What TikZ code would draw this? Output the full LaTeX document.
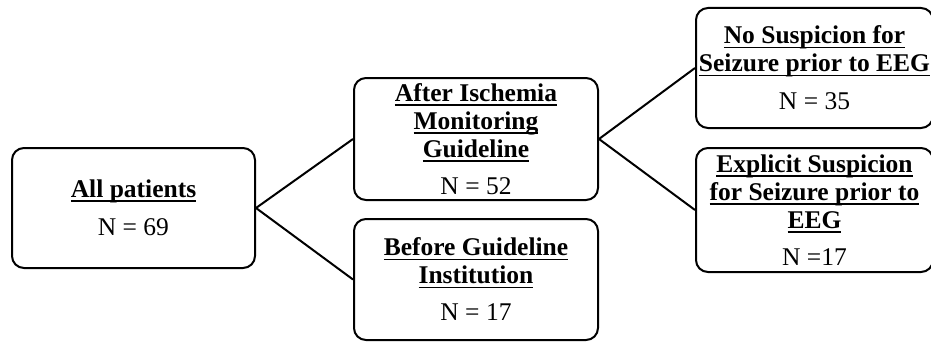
\documentclass[tikz,border=0pt]{standalone}
\usepackage{fontspec}
\setmainfont{Liberation Serif}
\usepackage{tikz}
\usetikzlibrary{positioning}
\newcommand{\ultext}[1]{\setbox0=\hbox{\bfseries #1}\rlap{\rule[-4.5pt]{\wd0}{1.8pt}}\box0}

\begin{document}
\begin{tikzpicture}[
    groupbox/.style={draw=black, line width=2pt, rounded corners=12pt, fill=white,
               minimum width=244pt, minimum height=121pt, align=center, inner sep=0pt,
               font=\fontsize{25.5}{28}\selectfont},
    subbox/.style={groupbox, minimum width=237pt},
    link/.style={line width=2pt}
]
    \useasboundingbox (0pt,0pt) rectangle (931pt,341pt);
    \node[groupbox, minimum width=243pt, minimum height=120pt] (all) at (133.5pt,133pt)
        {\ultext{All patients}\\[10pt]N = 69};
    \node[groupbox, right=97pt of all, yshift=69pt, minimum height=122pt] (after)
        {\ultext{After Ischemia}\\\ultext{Monitoring}\\\ultext{Guideline}\\[9pt]N = 52};
    \node[groupbox, right=97pt of all, yshift=-71.5pt] (before)
        {\ultext{Before Guideline}\\\ultext{Institution}\\[9pt]N = 17};
    \node[subbox, right=96pt of after, yshift=71pt, minimum height=120pt] (nosusp)
        {\ultext{No Suspicion for}\\\ultext{Seizure prior to EEG}\\[10pt]N = 35};
    \node[subbox, right=96pt of after, yshift=-71pt, minimum height=124pt] (explicit)
        {\ultext{Explicit Suspicion}\\\ultext{for Seizure prior to}\\\ultext{EEG}\\[9pt]N =17};
    \draw[link] (all.east) -- (after.west);
    \draw[link] (all.east) -- (before.west);
    \draw[link] (after.east) -- (nosusp.west);
    \draw[link] (after.east) -- (explicit.west);
\end{tikzpicture}
\end{document}
